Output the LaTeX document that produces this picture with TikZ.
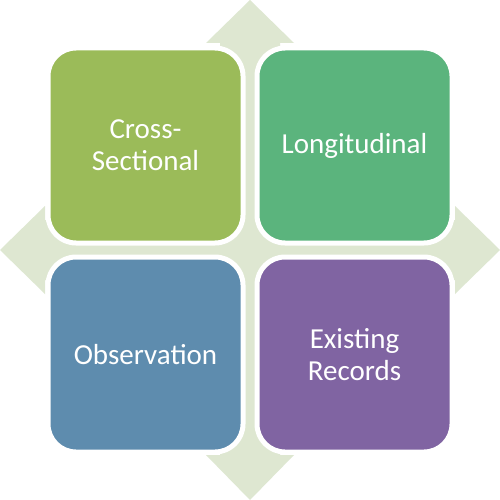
\documentclass[tikz,border=0pt]{standalone}
\usepackage{fontspec}
\setmainfont{Carlito}
\definecolor{arrowgreen}{HTML}{DEE7D1}
\definecolor{cgreen}{HTML}{9BBB59}
\definecolor{cteal}{HTML}{5BB47D}
\definecolor{cblue}{HTML}{5E8CAE}
\definecolor{cpurple}{HTML}{8064A2}
\begin{document}
\begin{tikzpicture}[x=1pt,y=-1pt,
  tile/.style={draw=white, line width=5pt, rounded corners=28pt,
    minimum width=195pt, minimum height=195pt, inner sep=0pt,
    text=white, align=center, font=\fontsize{29}{32}\selectfont}]
\useasboundingbox (0,0) rectangle (500,500);
\fill[white] (0,0) rectangle (500,500);
% four-way arrow
\fill[arrowgreen] (250,0) -- (294,43) -- (280,43) -- (280,220) -- (455,220) -- (455,206)
  -- (500,250) -- (455,294) -- (455,280) -- (280,280) -- (280,455) -- (294,455)
  -- (250,500) -- (206,455) -- (220,455) -- (220,280) -- (45,280) -- (45,294)
  -- (0,250) -- (45,206) -- (45,220) -- (220,220) -- (220,43) -- (206,43) -- cycle;
\node[tile, fill=cgreen] (cs) at (145.5,145.5) {Cross-\\Sectional};
\node[tile, fill=cteal] (lo) at (354.5,145.5) {Longitudinal};
\node[tile, fill=cblue] (ob) at (145.5,354.5) {Observation};
\node[tile, fill=cpurple] (er) at (354.5,354.5) {Existing\\Records};
\end{tikzpicture}
\end{document}
